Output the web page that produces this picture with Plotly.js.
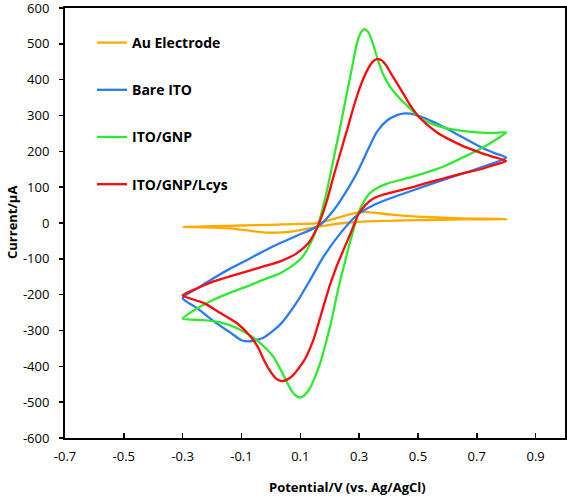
<!DOCTYPE html>
<html>
<head>
<meta charset="utf-8">
<script src="https://cdn.plot.ly/plotly-3.0.1.min.js"></script>
<style>
html,body{margin:0;padding:0;background:#fff;}
#chart{width:567px;height:498px;}
</style>
</head>
<body>
<div id="chart"></div>
<script>
// Series names
const seriesNames = ['Au Electrode', 'Bare ITO', 'ITO/GNP', 'ITO/GNP/Lcys'];

// Au Electrode (forward then reverse scan)
const auV = [-0.300, -0.200, -0.100, 0.000, 0.080, 0.150, 0.200, 0.250, 0.290, 0.316, 0.350, 0.400, 0.470, 0.550, 0.650, 0.800,
             0.650, 0.500, 0.400, 0.316, 0.250, 0.200, 0.150, 0.089, 0.040, -0.009, -0.070, -0.138, -0.220, -0.300];
const auI = [-11, -9, -7, -5, -3, -1, 8, 20, 28, 31, 29, 24, 19, 16, 13, 11,
             10, 8, 6, 4, 0, -5, -12, -21, -26, -27, -22, -15, -12, -11];

// Bare ITO
const bareV = [-0.300, -0.250, -0.195, -0.140, -0.081, -0.025, 0.032, 0.090, 0.145, 0.175, 0.205, 0.236, 0.265, 0.293, 0.315, 0.333, 0.361, 0.395, 0.429, 0.455, 0.474, 0.509, 0.550, 0.599, 0.650, 0.713, 0.760, 0.800,
               0.713, 0.599, 0.486, 0.406, 0.350, 0.293, 0.236, 0.179, 0.134, 0.089, 0.032, -0.025, -0.070, -0.098, -0.138, -0.195, -0.252, -0.300];
const bareI = [-210, -182, -154, -128, -103, -79, -56, -35, -15, 0, 27, 62, 100, 140, 178, 210, 255, 286, 301, 306, 305, 297, 283, 263, 240, 212, 195, 182,
               155, 124, 92, 69, 50, 22, -29, -94, -158, -220, -283, -320, -330, -328, -306, -274, -237, -210];

// ITO/GNP
const gnpV = [-0.300, -0.250, -0.195, -0.140, -0.081, -0.025, 0.032, 0.077, 0.105, 0.123, 0.145, 0.162, 0.179, 0.196, 0.212, 0.230, 0.253, 0.276, 0.292, 0.305, 0.318, 0.332, 0.347, 0.362, 0.380, 0.406, 0.440, 0.474, 0.509, 0.550, 0.600, 0.650, 0.713, 0.760, 0.800,
              0.713, 0.650, 0.599, 0.540, 0.486, 0.440, 0.395, 0.360, 0.335, 0.315, 0.298, 0.281, 0.265, 0.250, 0.236, 0.222, 0.208, 0.190, 0.170, 0.150, 0.130, 0.112, 0.098, 0.085, 0.070, 0.055, 0.035, 0.010, -0.013, -0.059, -0.116, -0.172, -0.229, -0.300];
const gnpI = [-267, -238, -214, -195, -177, -158, -140, -117, -97, -75, -38, -1, 50, 110, 175, 245, 340, 434, 500, 530, 541, 532, 500, 460, 418, 379, 346, 319, 292, 276, 264, 257, 252, 251, 253,
              207, 182, 162, 144, 130, 120, 110, 97, 82, 58, 31, -19, -65, -115, -160, -210, -265, -325, -385, -430, -465, -482, -487, -482, -468, -445, -412, -375, -353, -320, -293, -277, -271, -267];

// ITO/GNP/Lcys
const lcysV = [-0.300, -0.250, -0.195, -0.140, -0.081, -0.025, 0.032, 0.089, 0.128, 0.151, 0.168, 0.191, 0.213, 0.242, 0.262, 0.281, 0.300, 0.316, 0.330, 0.345, 0.361, 0.375, 0.392, 0.410, 0.440, 0.474, 0.497, 0.530, 0.570, 0.610, 0.650, 0.700, 0.750, 0.800,
               0.750, 0.713, 0.650, 0.599, 0.540, 0.486, 0.430, 0.385, 0.350, 0.321, 0.298, 0.276, 0.247, 0.225, 0.213, 0.202, 0.179, 0.160, 0.145, 0.117, 0.095, 0.075, 0.055, 0.035, 0.015, -0.005, -0.025, -0.045, -0.070, -0.116, -0.172, -0.229, -0.300];
const lcysI = [-202, -182, -163, -149, -135, -121, -107, -84, -56, -24, 8, 64, 130, 212, 268, 323, 372, 406, 430, 449, 457, 455, 440, 415, 375, 328, 302, 275, 250, 232, 216, 200, 186, 173,
               160, 150, 138, 127, 114, 101, 89, 80, 69, 50, 25, -19, -75, -118, -145, -170, -232, -285, -325, -378, -405, -425, -437, -441, -432, -410, -380, -345, -316, -279, -251, -223, -202];

// Tick values and labels
const xTickVals = [-0.7, -0.5, -0.3, -0.1, 0.1, 0.3, 0.5, 0.7, 0.9];
const xTickLabels = ['-0.7', '-0.5', '-0.3', '-0.1', '0.1', '0.3', '0.5', '0.7', '0.9'];
const yTickVals = [-600, -500, -400, -300, -200, -100, 0, 100, 200, 300, 400, 500, 600];
const yTickLabels = ['-600', '-500', '-400', '-300', '-200', '-100', '0', '100', '200', '300', '400', '500', '600'];

const colors = ['#FFAA00', '#2A7BF4', '#2FEA2F', '#FF0A0A'];
const xs = [auV, bareV, gnpV, lcysV];
const ys = [auI, bareI, gnpI, lcysI];

const traces = seriesNames.map((name, i) => ({
  type: 'scatter',
  mode: 'lines',
  name: name,
  legendgroup: 'g' + i,
  x: xs[i],
  y: ys[i],
  line: {color: colors[i], width: 2.3, shape: 'spline', smoothing: 0.6}
}));

const font = 'Open Sans, Liberation Sans, Arial, sans-serif';

const layout = {
  width: 567,
  height: 498,
  margin: {l: 65, r: 2, t: 8, b: 60},
  paper_bgcolor: '#ffffff',
  plot_bgcolor: '#ffffff',
  font: {family: font, size: 13, color: '#000'},
  showlegend: true,
  legend: {
    x: 0.054, y: 0.9558, xanchor: 'left', yanchor: 'top',
    bgcolor: 'rgba(0,0,0,0)',
    font: {family: font, size: 14, color: '#000', weight: 'bold'},
    tracegroupgap: 26,
    itemwidth: 30
  },
  xaxis: {
    range: [-0.7, 1.0],
    tickmode: 'array', tickvals: xTickVals, ticktext: xTickLabels,
    ticks: 'inside', ticklen: 5, tickwidth: 1.5, tickcolor: '#000',
    showline: true, linecolor: '#000', linewidth: 2, mirror: true,
    showgrid: false, zeroline: false,
    ticklabelstandoff: 5,
    ticklabeloverflow: 'allow',
    tickfont: {family: font, size: 13, color: '#000'}
  },
  yaxis: {
    range: [-600, 600],
    tickmode: 'array', tickvals: yTickVals, ticktext: yTickLabels,
    ticks: 'outside', ticklen: 4, tickwidth: 1.5, tickcolor: '#000',
    showline: true, linecolor: '#000', linewidth: 2, mirror: true,
    showgrid: false, zeroline: false,
    ticklabelstandoff: 7,
    ticklabeloverflow: 'allow',
    tickfont: {family: font, size: 13, color: '#000'}
  },
  annotations: [
    {text: '<b>Potential/V (vs. Ag/AgCl)</b>', xref: 'paper', yref: 'paper',
     x: (347 - 65) / 500, y: -(487 - 438) / 430, xanchor: 'center', yanchor: 'middle',
     showarrow: false, font: {family: font, size: 13, color: '#000'}},
    {text: '<b>Current/μA</b>', xref: 'paper', yref: 'paper', textangle: -90,
     x: -(65 - 12) / 500, y: 0.5, xanchor: 'center', yanchor: 'middle',
     showarrow: false, font: {family: font, size: 13, color: '#000'}}
  ]
};

Plotly.newPlot('chart', traces, layout, {displayModeBar: false, staticPlot: true});
</script>
</body>
</html>
